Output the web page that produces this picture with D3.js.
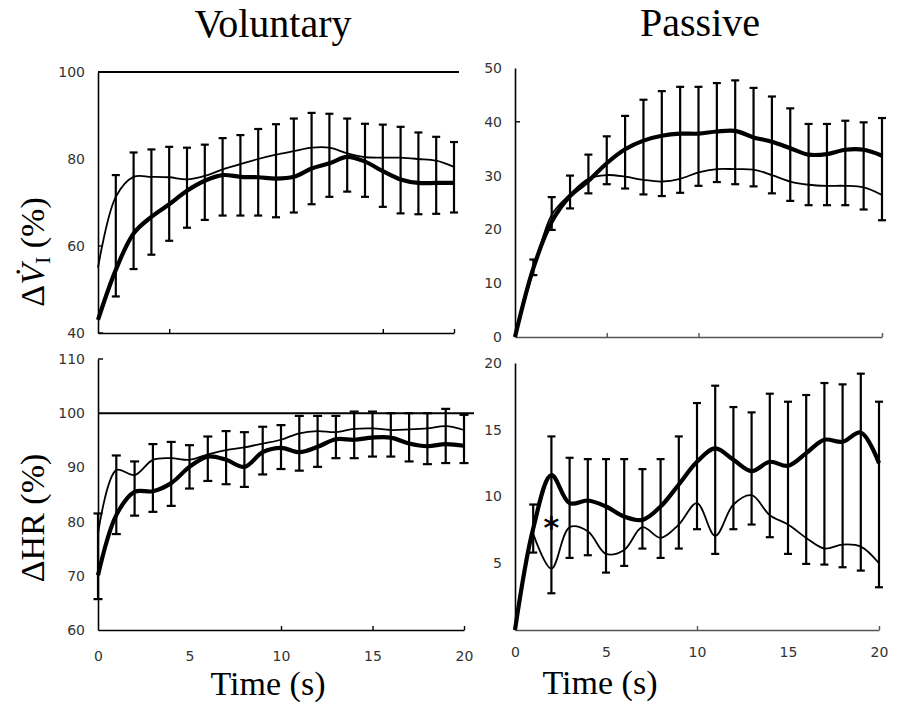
<!DOCTYPE html>
<html>
<head>
<meta charset="utf-8">
<script src="https://cdn.jsdelivr.net/npm/d3@7"></script>
<style>
  body { margin: 0; background: #fff; }
  .serif { font-family: "Liberation Serif", "Times New Roman", serif; fill: #000; }
</style>
</head>
<body>
<svg width="897" height="705"></svg>
<script>
var svg = d3.select("svg");

// time points (s)
var time = [0, 1, 2, 3, 4, 5, 6, 7, 8, 9, 10, 11, 12, 13, 14, 15, 16, 17, 18, 19, 20];
var xLabels = [0, 5, 10, 15, 20];

// ventilation, voluntary (% of control)
var viVolThin    = [55.0, 71.3, 75.9, 75.9, 75.8, 75.3, 76.1, 77.6, 78.8, 80.0, 81.0, 81.8, 82.6, 82.6, 81.3, 80.4, 80.3, 80.3, 80.0, 79.6, 78.2];
var viVolThinSd  = [null, 5.0, 5.6, 6.3, 7.0, 7.3, 7.2, 7.2, 6.7, 6.9, 7.0, 7.5, 8.0, 7.8, 8.0, 7.7, 7.6, 7.1, 6.1, 5.5, 5.7];
var viVolThick   = [43.0, 54.5, 62.9, 66.7, 69.6, 72.7, 75.0, 76.3, 75.9, 75.8, 75.5, 75.9, 77.8, 79.0, 80.5, 79.4, 77.2, 75.3, 74.5, 74.5, 74.5];
var viVolThickSd = [null, 6.1, 8.2, 8.7, 8.4, 8.5, 9.0, 9.3, 8.9, 8.8, 8.9, 8.2, 8.2, 7.7, 8.0, 8.1, 8.2, 7.8, 7.2, 7.1, 6.8];

// ventilation, passive
var viPasThick   = [0, 12.8, 21.4, 26.2, 29.0, 32.3, 34.9, 36.5, 37.4, 37.8, 37.8, 38.2, 38.3, 37.1, 36.3, 35.1, 33.9, 34.0, 34.8, 34.8, 33.7];
var viPasThickSd = [null, 1.6, 4.6, 3.8, 4.9, 5.0, 6.2, 7.6, 8.3, 8.7, 8.7, 9.0, 9.4, 9.2, 8.4, 7.4, 5.7, 5.6, 5.4, 5.1, 7.0];
var viPasThin    = [0, 12.3, 22.7, 26.5, 29.4, 30.1, 29.8, 29.2, 28.9, 29.4, 30.6, 31.2, 31.2, 31.1, 30.1, 28.9, 28.3, 28.1, 28.1, 27.8, 26.4];
var viPasThinSd  = [null, 0.8, 2.8, 2.6, 2.7, 1.7, 2.2, 2.7, 2.7, 2.6, 2.5, 2.4, 2.8, 3.1, 3.4, 3.6, 3.8, 3.6, 3.6, 4.1, 4.7];

// heart rate, voluntary
var hrVolThin    = [77.8, 89.5, 88.6, 91.4, 91.7, 91.4, 92.4, 93.2, 93.7, 94.4, 95.1, 96.3, 96.7, 96.5, 97.1, 97.2, 96.9, 97.0, 97.2, 97.6, 96.9];
var hrVolThinSd  = [3.7, 2.7, 2.5, 2.9, 3.0, 2.7, 3.3, 3.5, 2.8, 3.1, 2.7, 3.2, 2.8, 3.0, 3.2, 3.1, 3.1, 3.0, 2.8, 3.2, 2.8];
var hrVolThick   = [70.1, 81.2, 85.5, 85.6, 87.1, 90.1, 92.0, 91.4, 90.1, 92.8, 93.6, 92.8, 93.8, 95.2, 95.1, 95.5, 95.5, 94.4, 93.9, 94.3, 94.0];
var hrVolThickSd = [4.4, 3.5, 4.4, 3.8, 4.2, 4.0, 4.5, 4.5, 3.7, 4.1, 3.9, 3.4, 3.7, 3.5, 3.4, 3.5, 3.5, 3.3, 3.3, 3.5, 3.2];

// heart rate, passive
var hrPasThick   = [0, 7.6, 11.6, 9.5, 9.7, 9.25, 8.5, 8.25, 9.25, 10.9, 12.6, 13.6, 12.75, 11.9, 12.6, 12.3, 13.25, 14.25, 14.1, 14.8, 12.5];
var hrPasThickSd = [null, 1.8, 2.9, 3.4, 3.1, 3.55, 4.3, 3.8, 3.55, 3.6, 4.4, 4.7, 3.95, 4.4, 5.1, 4.8, 4.35, 4.25, 4.3, 4.4, 4.6];
var hrPasThin    = [null, 7.2, 4.6, 7.7, 7.4, 5.7, 6.0, 7.7, 6.9, 7.9, 9.5, 7.05, 9.4, 10.1, 8.6, 7.9, 6.9, 6.1, 6.4, 6.25, 5.0];
var hrPasThinSd  = [null, 1.4, 1.85, 2.3, 1.8, 1.4, 1.2, 1.6, 1.5, 1.8, 1.95, 1.35, 1.85, 2.2, 1.65, 2.2, 1.95, 1.2, 1.7, 1.8, 1.8];

var star = {t: 2, v: 8};

var panels = [
  {left: 98, right: 454, top: 72, bottom: 333, yDomain: [40, 100], yTicks: [40, 60, 80, 100], yMarks: [40, 60], xMarks: [4, 16, 20],
   ref: 100, refEnd: 459, thin: viVolThin, thinSd: viVolThinSd, thick: viVolThick, thickSd: viVolThickSd, up: "thin", cap: 8},
  {left: 515, right: 882, top: 68, bottom: 337, yDomain: [0, 50], yTicks: [0, 10, 20, 30, 40, 50], yMarks: [40], xMarks: [5, 10, 20],
   axisColor: "#555", thin: viPasThin, thinSd: viPasThinSd, thick: viPasThick, thickSd: viPasThickSd, up: "thick", cap: 8},
  {left: 98, right: 464, top: 359, bottom: 630, yDomain: [60, 110], yTicks: [60, 70, 80, 90, 100, 110], yMarks: [110], xMarks: [10, 15, 20],
   ref: 100, refEnd: 474, labelPad: 21, thin: hrVolThin, thinSd: hrVolThinSd, thick: hrVolThick, thickSd: hrVolThickSd, up: "thin", cap: 9},
  {left: 515, right: 879, top: 363, bottom: 630, yDomain: [0, 20], yTicks: [5, 10, 15, 20], yMarks: [], xMarks: [10, 20],
   axisColor: "#555", labelPad: 17, thin: hrPasThin, thinSd: hrPasThinSd, thick: hrPasThick, thickSd: hrPasThickSd, up: "thick", cap: 8, star: star}
];

panels.forEach(drawPanel);

function styleLabels(sel) {
  sel.attr("font-family", "'DejaVu Sans', sans-serif").attr("font-size", 14);
  sel.selectAll(".tick text").attr("fill", "#333");
}

function drawPanel(p) {
  var x = d3.scaleLinear().domain([0, 20]).range([p.left, p.right]),
      y = d3.scaleLinear().domain(p.yDomain).range([p.bottom, p.top]),
      g = svg.append("g");

  // y axis
  var ya = g.append("g")
      .attr("transform", "translate(" + p.left + ",0)")
      .call(d3.axisLeft(y).tickValues(p.yTicks).tickSize(0).tickSizeOuter(0).tickPadding(13));
  ya.select(".domain").attr("stroke", "#000").attr("stroke-width", 1.6);
  styleLabels(ya);

  g.selectAll(".ymark")
    .data(p.yMarks)
    .enter().append("line")
      .attr("x1", p.left).attr("x2", p.left + 5)
      .attr("y1", function(d) { return y(d); })
      .attr("y2", function(d) { return y(d); })
      .attr("stroke", "#000").attr("stroke-width", 1.4);

  // x axis with inward tick marks
  var xa = g.append("g")
      .attr("transform", "translate(0," + p.bottom + ")")
      .call(d3.axisBottom(x).tickValues(p.xMarks).tickSize(-4).tickSizeOuter(0).tickFormat(""));
  xa.select(".domain").attr("stroke", p.axisColor || "#000").attr("stroke-width", 1.6);
  xa.selectAll(".tick line").attr("stroke", p.axisColor || "#000").attr("stroke-width", 1.4);

  if (p.labelPad) {
    var xl = g.append("g")
        .attr("transform", "translate(0," + p.bottom + ")")
        .call(d3.axisBottom(x).tickValues(xLabels).tickSize(0).tickPadding(p.labelPad));
    xl.select(".domain").remove();
    styleLabels(xl);
  }

  // reference line at 100 %
  if (p.ref != null) {
    g.append("line")
      .attr("x1", p.left).attr("x2", p.refEnd)
      .attr("y1", y(p.ref)).attr("y2", y(p.ref))
      .attr("stroke", "#000").attr("stroke-width", 2);
  }

  // error bars: upper series goes up, lower series goes down
  var upM = p.up === "thin" ? p.thin : p.thick,
      upS = p.up === "thin" ? p.thinSd : p.thickSd,
      dnM = p.up === "thin" ? p.thick : p.thin,
      dnS = p.up === "thin" ? p.thickSd : p.thinSd;

  var bars = time.map(function(t, i) {
    if (upS[i] == null || dnS[i] == null) return null;
    return {t: t, hi: upM[i] + upS[i], lo: dnM[i] - dnS[i]};
  }).filter(function(d) { return d; });

  var bar = g.selectAll(".bar")
    .data(bars)
    .enter().append("g")
      .attr("class", "bar")
      .attr("stroke", "#000")
      .attr("stroke-width", 2.2);

  bar.append("line")
      .attr("x1", function(d) { return x(d.t); })
      .attr("x2", function(d) { return x(d.t); })
      .attr("y1", function(d) { return y(d.hi); })
      .attr("y2", function(d) { return y(d.lo); });
  bar.append("line")
      .attr("x1", function(d) { return x(d.t) - p.cap / 2; })
      .attr("x2", function(d) { return x(d.t) + p.cap / 2; })
      .attr("y1", function(d) { return y(d.hi); })
      .attr("y2", function(d) { return y(d.hi); });
  bar.append("line")
      .attr("x1", function(d) { return x(d.t) - p.cap / 2; })
      .attr("x2", function(d) { return x(d.t) + p.cap / 2; })
      .attr("y1", function(d) { return y(d.lo); })
      .attr("y2", function(d) { return y(d.lo); });

  var line = d3.line()
      .defined(function(d) { return d != null; })
      .curve(d3.curveCatmullRom.alpha(0.5))
      .x(function(d, i) { return x(time[i]); })
      .y(function(d) { return y(d); });

  g.append("path")
      .attr("d", line(p.thin))
      .attr("fill", "none").attr("stroke", "#000").attr("stroke-width", 1.8);
  g.append("path")
      .attr("d", line(p.thick))
      .attr("fill", "none").attr("stroke", "#000").attr("stroke-width", 4.2)
      .attr("stroke-linejoin", "round");

  if (p.star) {
    g.append("text")
      .attr("x", x(p.star.t))
      .attr("y", y(p.star.v) + 15)
      .attr("text-anchor", "middle")
      .style("font", "bold 30px 'DejaVu Sans', sans-serif")
      .text("*");
  }
}

// titles
svg.append("text").attr("class", "serif")
    .attr("x", 273).attr("y", 37).attr("text-anchor", "middle")
    .style("font-size", "40px").text("Voluntary");
svg.append("text").attr("class", "serif")
    .attr("x", 700).attr("y", 36).attr("text-anchor", "middle")
    .style("font-size", "40px").text("Passive");

svg.append("text").attr("class", "serif")
    .attr("x", 268).attr("y", 695).attr("text-anchor", "middle")
    .style("font-size", "34px").text("Time (s)");
svg.append("text").attr("class", "serif")
    .attr("x", 600).attr("y", 694).attr("text-anchor", "middle")
    .style("font-size", "34px").text("Time (s)");

// y titles
var t1 = svg.append("text").attr("class", "serif")
    .attr("transform", "translate(44,252) rotate(-90)")
    .attr("text-anchor", "middle")
    .style("font-size", "34px");
t1.append("tspan").text("\u0394");
t1.append("tspan").style("font-style", "italic").text("V\u0307");
t1.append("tspan").attr("dy", 6).style("font-size", "22px").text("I");
t1.append("tspan").attr("dy", -6).text(" (%)");

svg.append("text").attr("class", "serif")
    .attr("transform", "translate(44,518) rotate(-90)")
    .attr("text-anchor", "middle")
    .style("font-size", "34px")
    .text("\u0394HR (%)");
</script>
</body>
</html>
